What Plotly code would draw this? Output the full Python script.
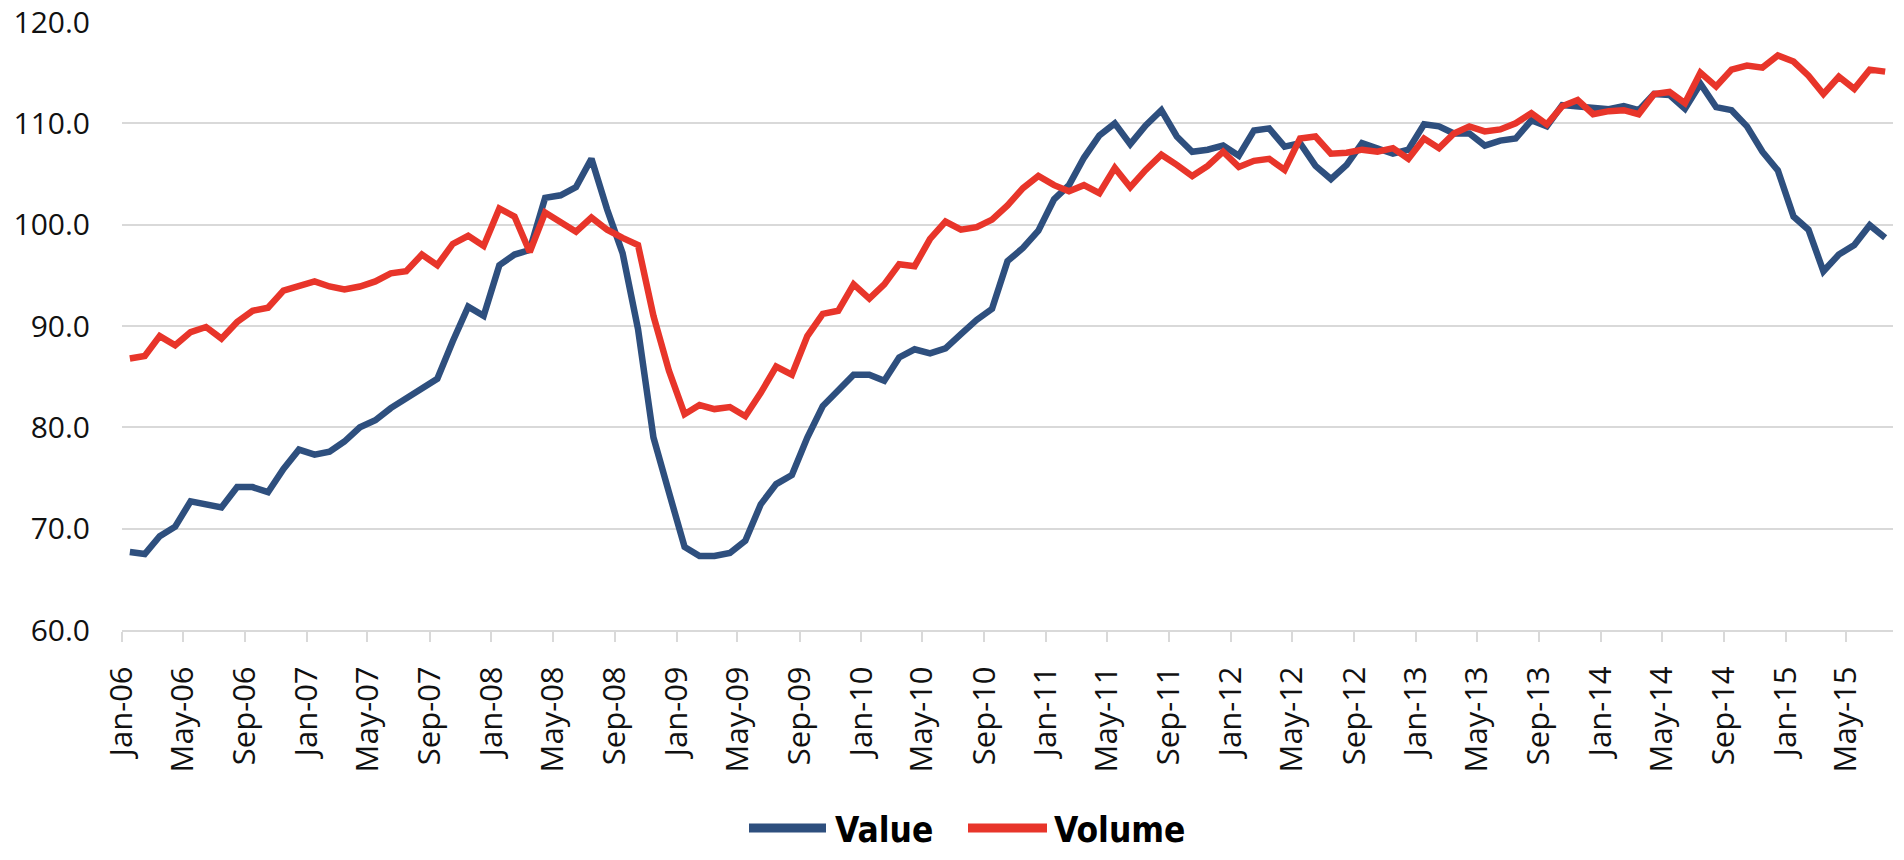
import pandas as pd
import plotly.graph_objects as go

# Monthly categories Jan-06 .. Jul-15
months = pd.date_range("2006-01-01", periods=115, freq="MS")

value = [
    67.7, 67.5, 69.25, 70.2, 72.7, 72.4, 72.1, 74.1, 74.1, 73.6,
    75.9, 77.8, 77.3, 77.6, 78.6, 80.0, 80.7, 81.9, 82.9, 83.8,
    84.8, 88.5, 91.9, 91.0, 96.0, 97.05, 97.5, 102.65, 102.9, 103.7,
    106.5, 101.5, 97.2, 89.7, 79.0, 73.6, 68.2, 67.3, 67.3, 67.6,
    68.8, 72.4, 74.4, 75.3, 79.0, 82.1, 83.6, 85.2, 85.2, 84.6,
    86.9, 87.7, 87.3, 87.8, 89.2, 90.6, 91.7, 96.4, 97.7, 99.4,
    102.5, 103.9, 106.6, 108.8, 110.0, 107.95, 109.8, 111.3, 108.7, 107.2,
    107.4, 107.8, 106.8, 109.3, 109.5, 107.7, 108.05, 105.8, 104.5, 105.9,
    108.05, 107.55, 107.0, 107.4, 109.9, 109.7, 109.0, 109.0, 107.8, 108.3,
    108.5, 110.3, 109.7, 111.8, 111.7, 111.45, 111.4, 111.7, 111.3, 112.9,
    112.8, 111.45, 113.9, 111.6, 111.3, 109.7, 107.2, 105.35, 100.8, 99.5,
    95.4, 97.05, 98.0, 99.95, 98.7,
]

volume = [
    86.8, 87.05, 89.0, 88.1, 89.4, 89.9, 88.75, 90.4, 91.5, 91.8,
    93.5, 93.9, 94.4, 93.9, 93.6, 93.9, 94.4, 95.2, 95.4, 97.05,
    96.0, 98.1, 98.9, 97.9, 101.6, 100.8, 97.3, 101.2, 100.2, 99.3,
    100.7, 99.5, 98.7, 98.0, 91.0, 85.6, 81.3, 82.2, 81.8, 82.0,
    81.1, 83.4, 86.0, 85.2, 89.0, 91.2, 91.5, 94.1, 92.7, 94.1,
    96.1, 95.9, 98.6, 100.3, 99.5, 99.75, 100.5, 101.9, 103.6, 104.8,
    103.9, 103.3, 103.9, 103.1, 105.6, 103.7, 105.4, 106.9, 105.9, 104.8,
    105.8, 107.2, 105.7, 106.3, 106.5, 105.4, 108.5, 108.7, 107.0, 107.1,
    107.4, 107.2, 107.55, 106.5, 108.5, 107.55, 109.0, 109.7, 109.2, 109.4,
    110.0, 111.0, 109.9, 111.7, 112.3, 110.9, 111.2, 111.3, 110.9, 112.9,
    113.1, 112.0, 115.0, 113.65, 115.3, 115.7, 115.5, 116.7, 116.1, 114.7,
    112.9, 114.6, 113.4, 115.3, 115.1,
]

series_names = ["Value", "Volume"]
tick_months = months[::4]
tick_labels = [d.strftime("%b-%y") for d in tick_months]
y_ticks = [60, 70, 80, 90, 100, 110, 120]

BLUE = "#2E4F7E"
RED = "#E8352A"
GRID = "#D9D9D9"
colors = [BLUE, RED]

W, H = 1904, 860
ML, MR, MT, MB = 122, 11, 22, 230
PW, PH = W - ML - MR, H - MT - MB

fig = go.Figure()
for name, ys, col in zip(series_names, [value, volume], colors):
    fig.add_trace(go.Scatter(
        x=months, y=ys, name=name, mode="lines",
        xperiod="M1", xperiodalignment="middle",
        line=dict(color=col, width=6.5),
        showlegend=False,
    ))

# Legend drawn below the plot (long line samples like the original)
def px_x(p):
    return (p - ML) / PW

def px_y(p):
    return (H - MB - p) / PH

legend_items = [(749, 826, 833), (968, 1047, 1052)]
shapes = []
annotations = []
for (x0, x1, tx), name, col in zip(legend_items, series_names, colors):
    shapes.append(dict(type="line", xref="paper", yref="paper",
                       x0=px_x(x0), x1=px_x(x1), y0=px_y(828), y1=px_y(828),
                       line=dict(color=col, width=9)))
    annotations.append(dict(xref="paper", yref="paper", x=px_x(tx), y=px_y(830),
                            xanchor="left", yanchor="middle", showarrow=False,
                            text=name,
                            font=dict(family="DejaVu Sans Condensed, DejaVu Sans",
                                      size=35, color="#000000", weight="bold")))

fig.update_layout(
    width=W, height=H,
    margin=dict(l=ML, r=MR, t=MT, b=MB, autoexpand=False),
    paper_bgcolor="white", plot_bgcolor="white",
    showlegend=False,
    shapes=shapes,
    annotations=annotations,
    xaxis=dict(
        type="date",
        automargin=False,
        range=[months[0], months[-1] + pd.offsets.MonthBegin(1)],
        tickmode="array",
        tickvals=list(tick_months),
        ticktext=tick_labels,
        tickangle=-90,
        ticks="outside", ticklen=10, tickwidth=2, tickcolor=GRID,
        ticklabelstandoff=12,
        showline=True, linecolor=GRID, linewidth=2,
        showgrid=False, zeroline=False,
        tickfont=dict(family="Open Sans", size=31, color="#111111"),
    ),
    yaxis=dict(
        automargin=False,
        range=[60, 120],
        tickmode="array", tickvals=y_ticks,
        tickformat=".1f",
        showgrid=True, gridcolor=GRID, gridwidth=2,
        zeroline=False, showline=False,
        ticks="", ticklabelstandoff=31,
        tickfont=dict(family="Open Sans", size=30, color="#111111"),
    ),
)

fig.write_html("out.html")
